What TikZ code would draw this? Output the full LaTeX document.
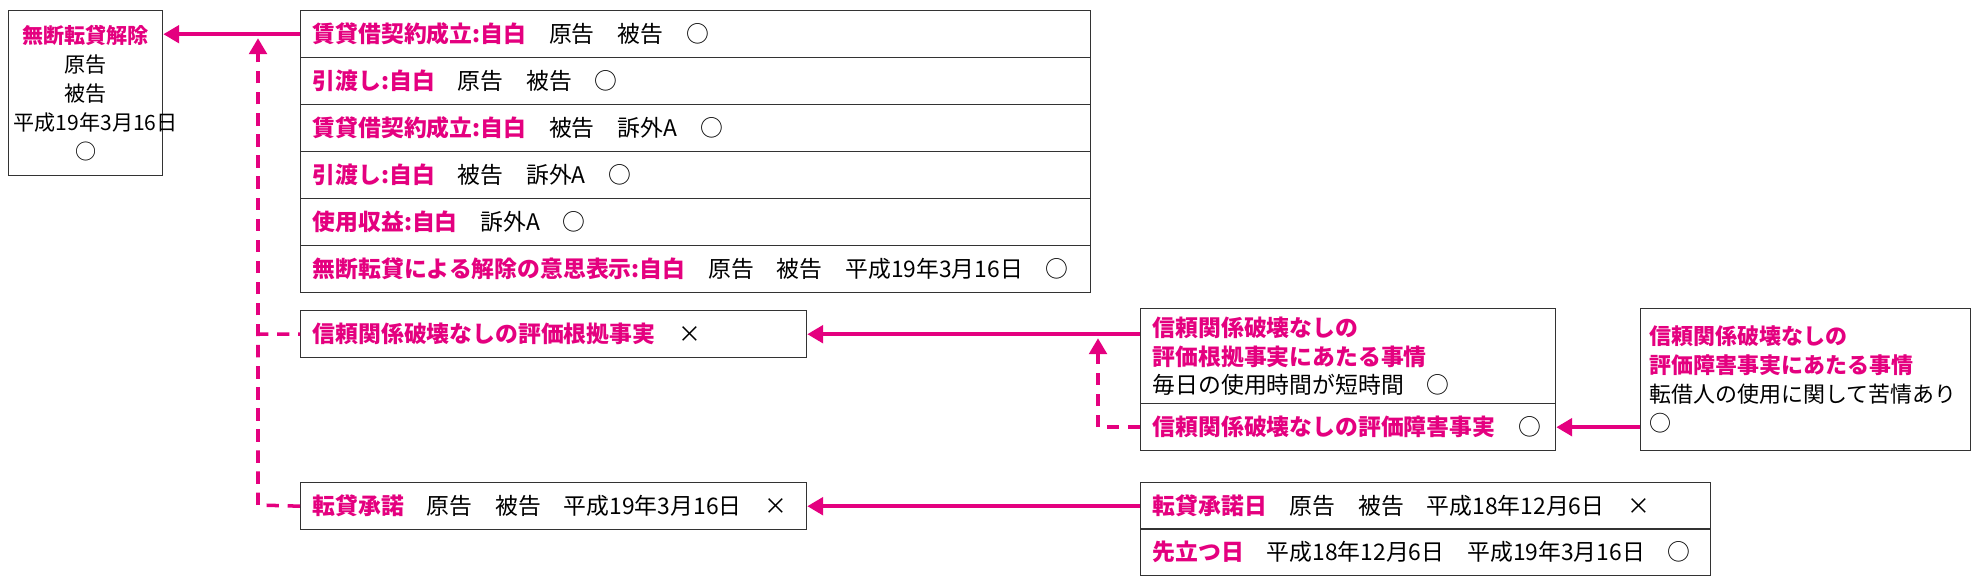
\documentclass[tikz,border=0pt]{standalone}
\usepackage{fontspec}
\setmainfont{Noto Sans CJK JP}
\usetikzlibrary{arrows.meta}
\definecolor{mag}{HTML}{E4007F}
\newcommand{\hl}[1]{\textbf{\textcolor{mag}{#1}}}
\tikzset{
  cell/.style={draw=black!80, line width=0.8pt, anchor=north west, minimum height=0.94cm,
    inner xsep=0.24cm, inner ysep=0pt, align=left, font=\fontsize{13}{16.5}\selectfont},
  arrow/.style={draw=mag, line width=2pt, -{Triangle[length=9pt,width=10pt]}},
  dasharrow/.style={arrow, dash pattern=on 7pt off 5pt},
  dashline/.style={draw=mag, line width=2pt, dash pattern=on 7pt off 5pt},
}
\begin{document}
\begin{tikzpicture}[x=0.02cm, y=-0.02cm]
\useasboundingbox (0,0) rectangle (1981,585);
% left result
\node (kaijo) [cell, align=center, inner xsep=0.1cm, text width=2.88cm, minimum height=3.3cm,
  font=\fontsize{12}{16.5}\selectfont] at (8,10)
  {\hl{無断転貸解除}\\原告\\被告\\平成19年3月16日\\○};
% main facts
\node (r1) [cell, text width=15.32cm] at (300,10) {\hl{賃貸借契約成立:自白}\quad 原告\quad 被告\quad ○};
\node (r2) [cell, text width=15.32cm] at (300,57) {\hl{引渡し:自白}\quad 原告\quad 被告\quad ○};
\node (r3) [cell, text width=15.32cm] at (300,104) {\hl{賃貸借契約成立:自白}\quad 被告\quad 訴外A\quad ○};
\node (r4) [cell, text width=15.32cm] at (300,151) {\hl{引渡し:自白}\quad 被告\quad 訴外A\quad ○};
\node (r5) [cell, text width=15.32cm] at (300,198) {\hl{使用収益:自白}\quad 訴外A\quad ○};
\node (r6) [cell, text width=15.32cm] at (300,245) {\hl{無断転貸による解除の意思表示:自白}\quad 原告\quad 被告\quad 平成19年3月16日\quad ○};
% defences
\node (konkyo) [cell, text width=9.64cm] at (300,310) {\hl{信頼関係破壊なしの評価根拠事実}\quad ×};
\node (shodaku) [cell, text width=9.64cm] at (300,482) {\hl{転貸承諾}\quad 原告\quad 被告\quad 平成19年3月16日\quad ×};
% circumstances
\node (jijo) [cell, text width=7.82cm, minimum height=1.9cm] at (1140,308)
  {\hl{信頼関係破壊なしの}\\\hl{評価根拠事実にあたる事情}\\毎日の使用時間が短時間\quad ○};
\node (shogai) [cell, text width=7.82cm] at (1140,403) {\hl{信頼関係破壊なしの評価障害事実}\quad ○};
\node (kujo) [cell, inner xsep=0.18cm, text width=6.24cm, minimum height=2.84cm,
  font=\fontsize{12.5}{16.5}\selectfont] at (1640,308)
  {\hl{信頼関係破壊なしの}\\\hl{評価障害事実にあたる事情}\\転借人の使用に関して苦情あり\\○};
\node (shodakubi) [cell, text width=10.92cm] at (1140,482) {\hl{転貸承諾日}\quad 原告\quad 被告\quad 平成18年12月6日\quad ×};
\node (sakidatsu) [cell, text width=10.92cm] at (1140,528) {\hl{先立つ日}\quad 平成18年12月6日\quad 平成19年3月16日\quad ○};
% connectors
\coordinate (d1) at (258,33);
\coordinate (d2) at (258,505);
\coordinate (d3) at (1098,333);
\draw [arrow] (r1.west) -- (kaijo.east |- r1.west);
\draw [dashline] (shodaku.west) -- (d2) -- (d2 |- konkyo.west) -- (konkyo.west);
\draw [dasharrow] (d2) -- ([yshift=-3pt]d1);
\draw [arrow] (jijo.west |- konkyo.east) -- (konkyo.east);
\draw [dasharrow] (shogai.west) -| ([yshift=-3pt]d3);
\draw [arrow] (kujo.west |- shogai.east) -- (shogai.east);
\draw [arrow] (shodakubi.west) -- (shodaku.east);
\end{tikzpicture}
\end{document}
